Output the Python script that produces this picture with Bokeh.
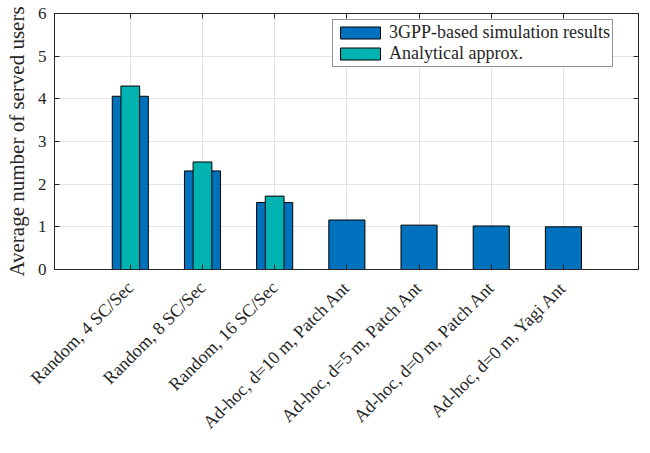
import numpy as np
from bokeh.plotting import figure
from bokeh.models import ColumnDataSource, Range1d, FixedTicker, LinearAxis, Legend, LegendItem
from bokeh.embed import file_html
from bokeh.resources import INLINE

# ---- data ----
categories = ["Random, 4 SC/Sec", "Random, 8 SC/Sec", "Random, 16 SC/Sec",
              "Ad-hoc, d=10 m, Patch Ant", "Ad-hoc, d=5 m, Patch Ant",
              "Ad-hoc, d=0 m, Patch Ant", "Ad-hoc, d=0 m, Yagi Ant"]
sim_values = [4.06, 2.31, 1.57, 1.16, 1.04, 1.02, 1.00]
approx_values = [4.30, 2.52, 1.72]
y_ticks = [0, 1, 2, 3, 4, 5, 6]
series_names = ["3GPP-based simulation results", "Analytical approx."]

positions = list(range(1, len(categories) + 1))
sim_src = ColumnDataSource(dict(x=positions, top=sim_values))
app_src = ColumnDataSource(dict(x=positions[:len(approx_values)], top=approx_values))

FONT = "Liberation Serif"
AX = "#262626"
BLUE = "#0072BD"
TEAL = "#00B2B0"

p = figure(width=642, height=445, x_range=Range1d(-0.05, 8.04), y_range=Range1d(0, 6),
           output_backend="svg", toolbar_location=None,
           min_border_left=54, min_border_right=4, min_border_top=13,
           min_border_bottom=176)
p.background_fill_color = "white"
p.border_fill_color = "white"
p.outline_line_color = AX
p.outline_line_width = 1

r1 = p.vbar(x="x", top="top", width=0.5, source=sim_src, fill_color=BLUE,
            line_color="black", line_width=1)
r2 = p.vbar(x="x", top="top", width=0.26, source=app_src, fill_color=TEAL,
            line_color="black", line_width=1)

def style_axis(ax, labels=True):
    ax.axis_line_color = AX
    ax.major_tick_line_color = AX
    ax.major_tick_in = 5
    ax.major_tick_out = 0
    ax.minor_tick_line_color = None
    ax.major_label_text_font = FONT
    ax.major_label_text_font_size = "17px"
    ax.major_label_text_color = "#262626"
    if not labels:
        ax.major_label_text_font_size = "0px"
        ax.major_label_text_color = None
        ax.major_label_standoff = 0
        ax.axis_label_standoff = 0

# bottom x axis
xa = p.xaxis[0]
xa.ticker = FixedTicker(ticks=positions)
xa.major_label_overrides = {pos: lab for pos, lab in zip(positions, categories)}
xa.major_label_orientation = np.pi / 4
xa.major_label_standoff = 15
style_axis(xa)
xa.major_label_text_font_size = "18px"

# left y axis
ya = p.yaxis[0]
ya.ticker = FixedTicker(ticks=y_ticks)
ya.axis_label = "Average number of served users"
ya.axis_label_text_font = FONT
ya.axis_label_text_font_size = "21px"
ya.axis_label_text_font_style = "normal"
ya.axis_label_text_color = "#262626"
ya.axis_label_standoff = 6
ya.major_label_standoff = 8
style_axis(ya)

# top and right axes with ticks only
top_ax = LinearAxis(ticker=FixedTicker(ticks=positions))
style_axis(top_ax, labels=False)
p.add_layout(top_ax, "above")
right_ax = LinearAxis(ticker=FixedTicker(ticks=y_ticks))
style_axis(right_ax, labels=False)
p.add_layout(right_ax, "right")

# grid
p.xgrid.ticker = FixedTicker(ticks=positions)
p.ygrid.ticker = FixedTicker(ticks=y_ticks)
for g in (p.xgrid[0], p.ygrid[0]):
    g.grid_line_color = "#E3E3E3"
    g.grid_line_width = 1

legend = Legend(items=[LegendItem(label=series_names[0], renderers=[r1]),
                       LegendItem(label=series_names[1], renderers=[r2])],
                location=(278, 202))
legend.label_text_font = FONT
legend.label_text_font_size = "18px"
legend.label_text_color = "#262626"
legend.label_height = 18
legend.glyph_width = 50
legend.glyph_height = 15
legend.label_standoff = 4
legend.spacing = 0
legend.padding = 2
legend.margin = 0
legend.border_line_color = AX
legend.border_line_width = 1
legend.background_fill_color = "white"
legend.background_fill_alpha = 1
p.add_layout(legend, "center")

open("out.html", "w").write(file_html(p, INLINE))
